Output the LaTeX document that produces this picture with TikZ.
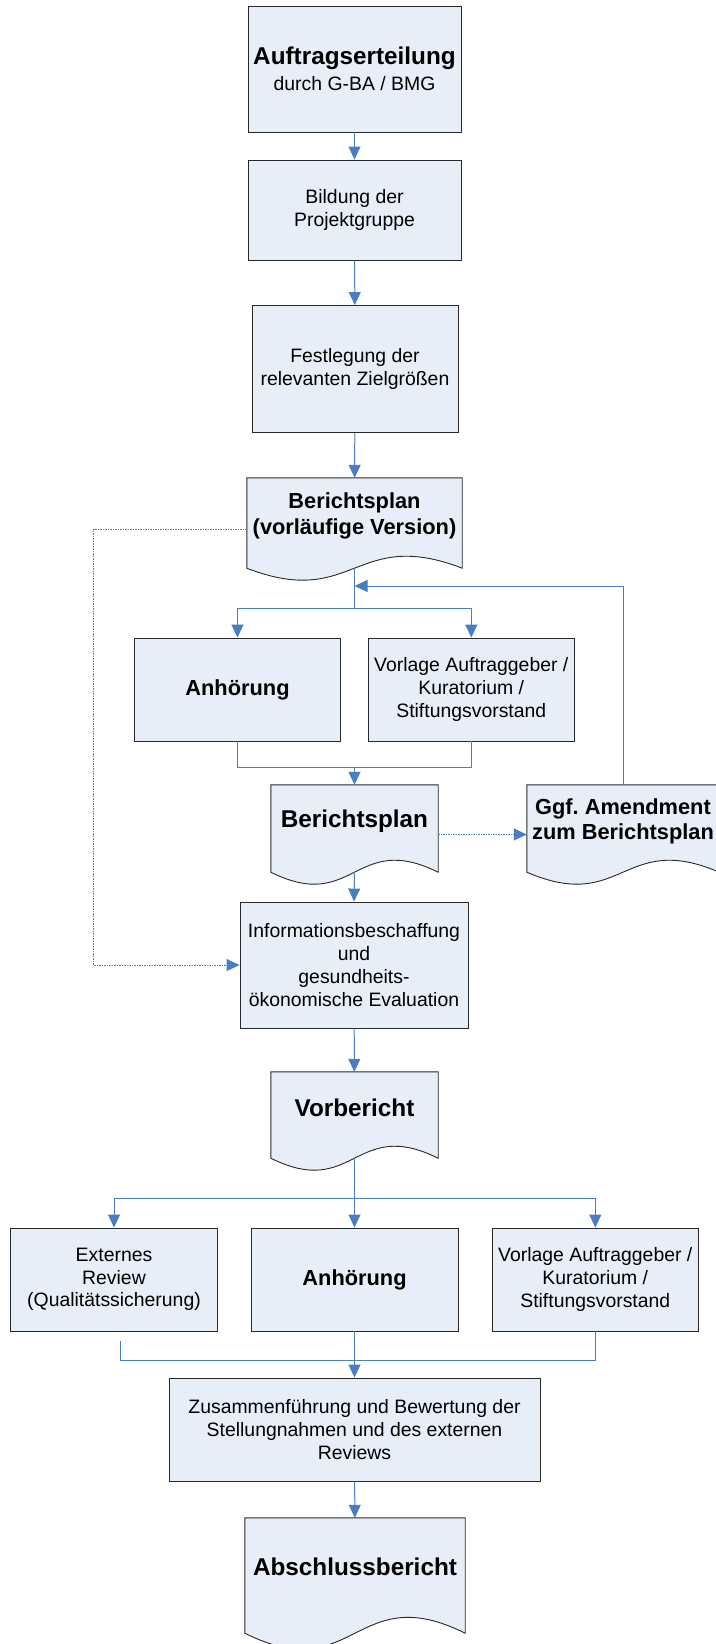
\documentclass[tikz,border=0pt]{standalone}
\usepackage{fontspec}
\setmainfont{Liberation Sans}
\usetikzlibrary{arrows.meta,backgrounds}
\definecolor{boxfill}{RGB}{232,238,247}
\definecolor{linkblue}{RGB}{74,126,193}
\definecolor{edgegray}{RGB}{40,40,40}
\newcommand{\docshape}[3]{%
  \begin{pgfonlayer}{background}
  \draw [docline] (#1.north west) -- ([yshift=-#2pt]#1.south west)
    .. controls ([yshift=-#2pt-#3pt]#1.south) and ([yshift=-#2pt+#3pt]#1.south) .. ([yshift=-#2pt]#1.south east)
    -- (#1.north east) -- cycle;
  \end{pgfonlayer}}

\begin{document}
\begin{tikzpicture}[x=1pt,y=-1pt,
	box/.style={draw=edgegray,fill=boxfill,line width=0.9pt,inner sep=2pt,align=center,
		font=\fontsize{19.4}{22.8}\selectfont},
	doc/.style={inner sep=0pt,align=center,font=\bfseries\fontsize{24.3}{27}\selectfont},
	docline/.style={draw=edgegray,fill=boxfill,line width=0.9pt},
	midbold/.style={font=\bfseries\fontsize{21.8}{25.5}\selectfont},
	link/.style={draw=linkblue,line width=1pt},
	conn/.style={link,-{Triangle[length=13pt,width=12pt]}},
	dotconn/.style={conn,dash pattern=on 1.5pt off 1pt}]
\useasboundingbox (0,0) rectangle (715,1644);
\node [box,minimum width=213,minimum height=126] (auftrag) at (354.5,69)
	{{\bfseries\fontsize{24.3}{27}\selectfont Auftragserteilung}\\[3pt]durch G-BA / BMG};
\node [box,minimum width=213,minimum height=100] (bildung) at (354.5,210) {Bildung der\\Projektgruppe};
\node [box,minimum width=206,minimum height=127] (festlegung) at (355,369) {Festlegung der\\relevanten Zielgrößen};
\node [doc,midbold,minimum width=215,minimum height=76] (plan1) at (354.5,516) {Berichtsplan\\(vorläufige Version)};
\docshape{plan1}{14}{41.5}
\node [box,midbold,minimum width=206,minimum height=103] (anh1) at (237.5,689.5) {Anhörung};
\node [box,minimum width=206.6,minimum height=103] (vorl1) at (471.3,689.5) {Vorlage Auftraggeber /\\Kuratorium /\\Stiftungsvorstand};
\node [doc,minimum width=167,minimum height=73] (plan2) at (354.5,821.5) {Berichtsplan};
\docshape{plan2}{14}{41.5}
\node [doc,midbold,minimum width=192,minimum height=73] (amend) at (623,821.5) {Ggf.\ Amendment\\zum Berichtsplan};
\docshape{amend}{14}{41.5}
\node [box,minimum width=228,minimum height=126] (info) at (354,965)
	{Informationsbeschaffung\\und\\gesundheits-\\ökonomische Evaluation};
\node [doc,minimum width=167,minimum height=72] (vorb) at (354.5,1108) {Vorbericht};
\docshape{vorb}{14}{41.5}
\node [box,minimum width=206.5,minimum height=103] (ext) at (114,1279.5) {Externes\\Review\\(Qualitätssicherung)};
\node [box,midbold,minimum width=207,minimum height=103] (anh2) at (354.5,1279.5) {Anhörung};
\node [box,minimum width=206.6,minimum height=103] (vorl2) at (595.3,1279.5) {Vorlage Auftraggeber /\\Kuratorium /\\Stiftungsvorstand};
\node [box,minimum width=371,minimum height=103] (zus) at (354.5,1429.5)
	{Zusammenführung und Bewertung der\\Stellungnahmen und des externen\\Reviews};
\node [doc,minimum width=220,minimum height=98] (absch) at (355,1567) {Abschlussbericht};
\docshape{absch}{17}{55}

\coordinate (p1b) at ([yshift=-14pt]plan1.south);
\coordinate (p2b) at ([yshift=-14pt]plan2.south);
\coordinate (vbb) at ([yshift=-14pt]vorb.south);
\coordinate (split1) at (354.5,608);
\coordinate (back) at (354.5,586);
\coordinate (merge1) at (354.5,767);
\coordinate (dleft) at (93.5,750);
\coordinate (split2) at (354.5,1198);
\coordinate (merge2) at (354.5,1360);
\coordinate (extend) at (120,1341);

\draw [conn] (auftrag) -- (bildung);
\draw [conn] (bildung) -- (festlegung);
\draw [conn] (festlegung) -- (plan1);
\draw [link] (p1b) -- (split1);
\draw [conn] (split1) -| (anh1.north);
\draw [conn] (split1) -| (vorl1.north);
\draw [conn] (amend.north) |- (back);
\draw [link] (anh1.south) |- (merge1);
\draw [link] (vorl1.south) |- (merge1);
\draw [conn] (merge1) -- (plan2.north);
\draw [dotconn] ([yshift=-13pt]plan2.east) -- ([yshift=-13pt]amend.west);
\draw [dotconn] ([yshift=-13pt]plan1.west) -| (dleft) |- (info.west);
\draw [conn] (p2b) -- (info.north);
\draw [conn] (info) -- (vorb);
\draw [link] (vbb) -- (split2);
\draw [conn] (split2) -| (ext.north);
\draw [conn] (split2) -- (anh2.north);
\draw [conn] (split2) -| (vorl2.north);
\draw [link] (extend) |- (merge2);
\draw [link] (vorl2.south) |- (merge2);
\draw [conn] (anh2) -- (zus);
\draw [conn] (zus) -- (absch);
\end{tikzpicture}
\end{document}
